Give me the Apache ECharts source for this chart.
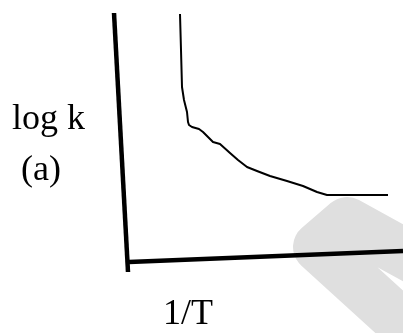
<!DOCTYPE html>
<html>
<head>
<meta charset="utf-8">
<script src="https://cdn.jsdelivr.net/npm/echarts@6/dist/echarts.min.js"></script>
<style>html,body{margin:0;padding:0;background:#fff}#c{width:403px;height:333px}</style>
</head>
<body>
<div id="c"></div>
<script>
// Schematic values (x: arbitrary 1/T units, y: arbitrary log k units)
var curveX = [180, 181, 182, 184, 187, 188, 189, 192, 199, 203, 208, 213, 220, 230, 238, 247, 257, 270, 287, 303, 317, 327, 388];
var curveY = [319, 283, 246, 233, 221, 211, 208, 206, 204, 201, 196, 191, 189, 180, 173, 166, 162, 157, 152, 147, 141, 138, 138];
var yAxisLineX = [114, 128];
var yAxisLineY = [320, 61];
var xAxisLineX = [129, 403];
var xAxisLineY = [71, 82];
var markX = [440, 347, 318, 440];
var markY = [60, 111, 86, -25];
var yLabel = 'log k';
var panelLabel = '(a)';
var xLabel = '1/T';

function pairs(xs, ys) { return xs.map(function (x, i) { return [x, ys[i]]; }); }

var chart = echarts.init(document.getElementById('c'), null, {renderer: 'canvas'});
var font = 'Liberation Serif, Times New Roman, serif';
chart.setOption({
  animation: false,
  backgroundColor: '#ffffff',
  grid: {left: 0, right: 0, top: 0, bottom: 0},
  xAxis: {type: 'value', min: 0, max: 403, show: false},
  yAxis: {type: 'value', min: 0, max: 333, show: false},
  series: [
    {type: 'line', data: pairs(markX, markY), symbol: 'none', z: 1, silent: true,
     lineStyle: {color: '#dfdfdf', width: 50, cap: 'round', join: 'round'}},
    {type: 'line', data: pairs(xAxisLineX, xAxisLineY), symbol: 'none', z: 2,
     lineStyle: {color: '#000', width: 4.5, cap: 'butt'}},
    {type: 'line', data: pairs(yAxisLineX, yAxisLineY), symbol: 'none', z: 2,
     lineStyle: {color: '#000', width: 4.5, cap: 'butt'}},
    {type: 'line', data: pairs(curveX, curveY), symbol: 'none', z: 3,
     lineStyle: {color: '#000', width: 2, join: 'round'}}
  ],
  graphic: [
    {type: 'text', x: 12, y: 120, style: {text: yLabel, font: '36px ' + font, fill: '#000', textAlign: 'left', textVerticalAlign: 'middle'}},
    {type: 'text', x: 21, y: 171, style: {text: panelLabel, font: '36px ' + font, fill: '#000', textAlign: 'left', textVerticalAlign: 'middle'}},
    {type: 'text', x: 163, y: 315, style: {text: xLabel, font: '36px ' + font, fill: '#000', textAlign: 'left', textVerticalAlign: 'middle'}}
  ]
});
</script>
</body>
</html>
